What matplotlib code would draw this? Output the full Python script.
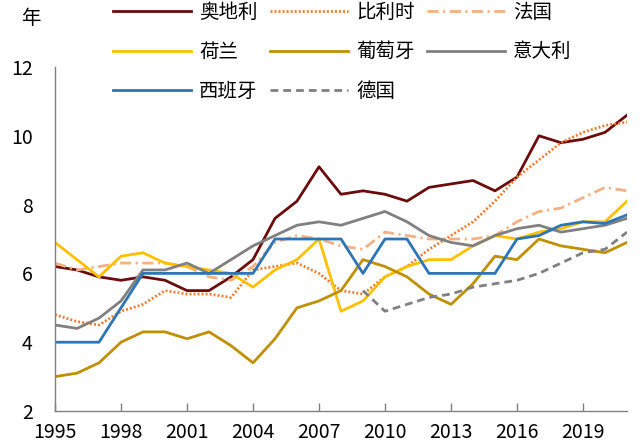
import matplotlib
matplotlib.use('Agg')
import matplotlib.pyplot as plt
import numpy as np

plt.rcParams['font.family'] = ['Noto Sans CJK SC', 'DejaVu Sans']

# --- data: years 1995-2021 ---
years = list(range(1995, 2022))

austria = [6.2, 6.1, 5.9, 5.8, 5.9, 5.8, 5.5, 5.5, 5.9, 6.4, 7.6, 8.1, 9.1, 8.3,
           8.4, 8.3, 8.1, 8.5, 8.6, 8.7, 8.4, 8.8, 10.0, 9.8, 9.9, 10.1, 10.6]
belgium = [4.8, 4.6, 4.5, 4.9, 5.1, 5.5, 5.4, 5.4, 5.3, 6.1, 6.2, 6.3, 6.0, 5.5,
           5.4, 5.9, 6.2, 6.7, 7.1, 7.5, 8.1, 8.8, 9.3, 9.8, 10.1, 10.3, 10.4]
france = [6.3, 6.1, 6.2, 6.3, 6.3, 6.3, 6.2, 5.9, 5.8, 6.2, 6.9, 7.1, 7.0, 6.8,
          6.7, 7.2, 7.1, 7.0, 7.0, 7.0, 7.1, 7.5, 7.8, 7.9, 8.2, 8.5, 8.4]
netherlands = [6.9, 6.4, 5.9, 6.5, 6.6, 6.3, 6.2, 6.1, 6.0, 5.6, 6.1, 6.4, 7.0, 4.9,
               5.2, 5.9, 6.2, 6.4, 6.4, 6.8, 7.1, 7.0, 7.2, 7.3, 7.5, 7.5, 8.1]
portugal = [3.0, 3.1, 3.4, 4.0, 4.3, 4.3, 4.1, 4.3, 3.9, 3.4, 4.1, 5.0, 5.2, 5.5,
            6.4, 6.2, 5.9, 5.4, 5.1, 5.7, 6.5, 6.4, 7.0, 6.8, 6.7, 6.6, 6.9]
italy = [4.5, 4.4, 4.7, 5.2, 6.1, 6.1, 6.3, 6.0, 6.4, 6.8, 7.1, 7.4, 7.5, 7.4,
         7.6, 7.8, 7.5, 7.1, 6.9, 6.8, 7.1, 7.3, 7.4, 7.2, 7.3, 7.4, 7.6]
spain = [4.0, 4.0, 4.0, 5.0, 6.0, 6.0, 6.0, 6.0, 6.0, 6.0, 7.0, 7.0, 7.0, 7.0,
         6.0, 7.0, 7.0, 6.0, 6.0, 6.0, 6.0, 7.0, 7.1, 7.4, 7.5, 7.45, 7.7]
germany = [None] * 14 + [5.5, 4.9, 5.1, 5.3, 5.4, 5.6, 5.7, 5.8, 6.0, 6.3, 6.6, 6.7, 7.2]

x_ticks = [1995, 1998, 2001, 2004, 2007, 2010, 2013, 2016, 2019]
y_ticks = [2, 4, 6, 8, 10, 12]

lw = 2.0
series = [
    ('奥地利', austria, '#6B0C0C', '-'),
    ('比利时', belgium, '#ED7D31', (0, (0.7, 0.75))),
    ('法国', france, '#F4B183', (0, (4, 1.6, 0.8, 1.6))),
    ('荷兰', netherlands, '#FFC000', '-'),
    ('葡萄牙', portugal, '#BF9000', '-'),
    ('意大利', italy, '#808080', '-'),
    ('西班牙', spain, '#2E75B6', '-'),
    ('德国', germany, '#808080', (0, (2.8, 1.8))),
]

fig = plt.figure(figsize=(6.4, 4.46), dpi=100)
ax = fig.add_axes([55 / 640, 1 - 411 / 446, (627 - 55) / 640, (411 - 67) / 446])

handles = {}
for name, vals, color, ls in series:
    v = np.array([np.nan if a is None else a for a in vals], dtype=float)
    line, = ax.plot(years, v, color=color, linestyle=ls, linewidth=lw, label=name)
    handles[name] = line

ax.set_xlim(1995, 2021)
ax.set_ylim(2, 12)
ax.set_xticks(x_ticks)
ax.set_yticks(y_ticks)
ax.tick_params(axis='x', direction='in', length=6, width=1, color='#808080',
               labelsize=14, pad=8)
ax.tick_params(axis='y', length=0, labelsize=14, pad=16)

for side in ['top', 'right']:
    ax.spines[side].set_visible(False)
for side in ['left', 'bottom']:
    ax.spines[side].set_color('#808080')
    ax.spines[side].set_linewidth(1)

fig.text(31 / 640, 1 - 18 / 446, '年', fontsize=14, ha='center', va='center')

# legend filled column-wise so it reads row by row like the original
order = ['奥地利', '荷兰', '西班牙', '比利时', '葡萄牙', '德国', '法国', '意大利']
fig.legend([handles[n] for n in order], order, loc='upper left',
           bbox_to_anchor=(113 / 640, 1 - 2 / 446), ncol=3, frameon=False,
           fontsize=14, handlelength=4.0, handletextpad=0.42, columnspacing=0.65,
           labelspacing=0.95, borderpad=0, borderaxespad=0)

fig.savefig('out.png', dpi=100)
